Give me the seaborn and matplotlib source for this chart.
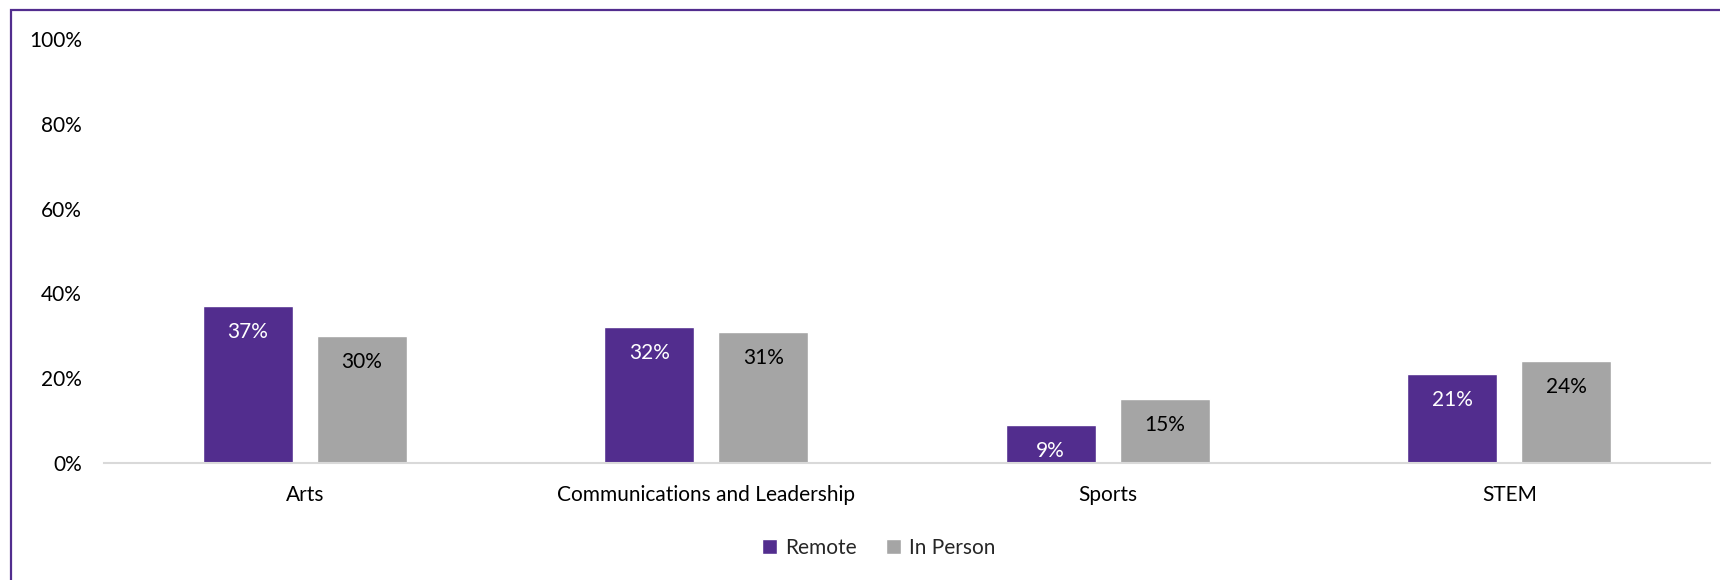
import matplotlib
matplotlib.use("Agg")
import matplotlib.pyplot as plt
from matplotlib.patches import Rectangle
from matplotlib.ticker import MultipleLocator, PercentFormatter
import seaborn as sns
import pandas as pd

categories = ["Arts", "Communications and Leadership", "Sports", "STEM"]
series_names = ["Remote", "In Person"]
remote = [37, 32, 9, 21]
in_person = [30, 31, 15, 24]

PURPLE = "#522D8E"
GRAY = "#A5A5A5"

sns.set_theme(style="white")
plt.rcParams["font.family"] = ["Lato", "DejaVu Sans"]

df = pd.DataFrame({
    "category": categories * 2,
    "series": [series_names[0]] * len(categories) + [series_names[1]] * len(categories),
    "value": remote + in_person,
})

fig = plt.figure(figsize=(17.2, 5.8), dpi=100)
ax = fig.add_axes([104 / 1720, 1 - 463 / 580, (1710 - 104) / 1720, (463 - 39) / 580])

sns.barplot(data=df, x="category", y="value", hue="series", order=categories,
            hue_order=series_names, palette=[PURPLE, GRAY], width=0.568,
            gap=0.211, ax=ax, saturation=1, errorbar=None)

ax.set_ylim(0, 100)
ax.set_xlim(-0.5, len(categories) - 0.5)
ax.yaxis.set_major_locator(MultipleLocator(20))
ax.yaxis.set_major_formatter(PercentFormatter(decimals=0))
ax.set_xlabel("")
ax.set_ylabel("")
for side in ["top", "right", "left"]:
    ax.spines[side].set_visible(False)
ax.spines["bottom"].set_color("#D9D9D9")
ax.spines["bottom"].set_linewidth(1.5)
ax.tick_params(axis="both", length=0, labelsize=15, colors="black")
ax.tick_params(axis="x", pad=16)
ax.tick_params(axis="y", pad=16)

# value labels inside each bar, near its top
values_by_series = [remote, in_person]
text_colors = ["white", "black"]
for container, vals, tc in zip(ax.containers, values_by_series, text_colors):
    for patch, v in zip(container.patches, vals):
        ax.annotate(f"{v}%", (patch.get_x() + patch.get_width() / 2, v),
                    xytext=(0, -26), textcoords="offset pixels",
                    ha="center", va="center", fontsize=15, color=tc)

sns.move_legend(ax, "center", bbox_to_anchor=(879 / 1720, 1 - 548 / 580),
                bbox_transform=fig.transFigure, ncol=2, frameon=False, title=None,
                fontsize=15, handlelength=0.7, handleheight=0.7,
                handletextpad=0.4, columnspacing=1.4)

# outer chart border
fig.patches.append(Rectangle((11 / 1720, -0.2), 1.5, 0.2 + 1 - 10 / 580,
                             transform=fig.transFigure, fill=False,
                             edgecolor=PURPLE, linewidth=1.6))

fig.savefig("out.png", dpi=100)
